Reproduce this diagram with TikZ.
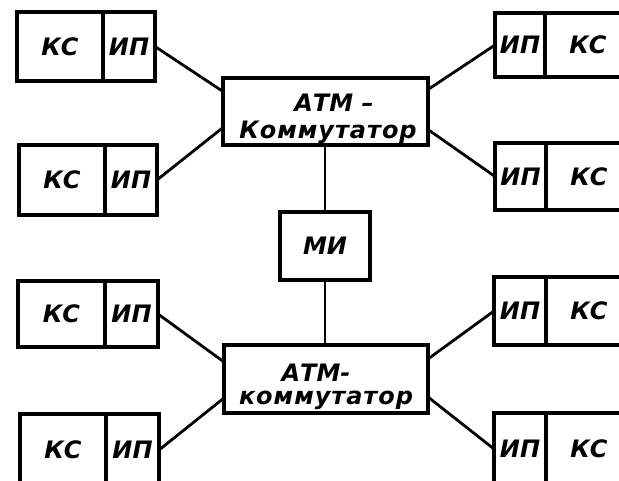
\documentclass[tikz,border=0pt]{standalone}
\usepackage{fontspec}
\setmainfont{DejaVu Sans}
\begin{document}
\begin{tikzpicture}[x=1pt,y=-1pt,
  bx/.style={draw, line width=3.4pt, inner sep=0pt, outer sep=0pt, anchor=north west,
    font=\bfseries\itshape\fontsize{24}{28}\selectfont},
  lbl/.style={inner sep=0pt, font=\bfseries\itshape\fontsize{24}{28}\selectfont},
  wire/.style={line width=2.8pt}]
\useasboundingbox (0,0) rectangle (619,481);
\clip (0,0) rectangle (619,481);
% left column
\node[bx, minimum width=86, minimum height=69] (k1) at (17,12) {КС};
\node[bx, minimum width=52, minimum height=69] (i1) at (k1.north east) {ИП};
\node[bx, minimum width=86, minimum height=70] (k2) at (19,145) {КС};
\node[bx, minimum width=52, minimum height=70] (i2) at (k2.north east) {ИП};
\node[bx, minimum width=87, minimum height=66] (k3) at (18,281) {КС};
\node[bx, minimum width=53, minimum height=66] (i3) at (k3.north east) {ИП};
\node[bx, minimum width=86, minimum height=72] (k4) at (20,414) {КС};
\node[bx, minimum width=53, minimum height=72] (i4) at (k4.north east) {ИП};
% right column
\node[bx, minimum width=50, minimum height=64] (i5) at (495,13) {ИП};
\node[bx, minimum width=86, minimum height=64] (k5) at (i5.north east) {КС};
\node[bx, minimum width=51, minimum height=67] (i6) at (495,143) {ИП};
\node[bx, minimum width=86, minimum height=67] (k6) at (i6.north east) {КС};
\node[bx, minimum width=52, minimum height=68] (i7) at (494,277) {ИП};
\node[bx, minimum width=86, minimum height=68] (k7) at (i7.north east) {КС};
\node[bx, minimum width=52, minimum height=72] (i8) at (494,413) {ИП};
\node[bx, minimum width=86, minimum height=72] (k8) at (i8.north east) {КС};
% switches and MI
\node[bx, minimum width=205, minimum height=67] (s1) at (223,78) {};
\node[bx, minimum width=204, minimum height=68] (s2) at (224,345) {};
\node[bx, minimum width=90, minimum height=68] (mi) at (280,212) {МИ};
\node[lbl] (t1) at (334,103) {АТМ –};
\node[lbl] (t2) at (328,132) {\addfontfeature{LetterSpace=4}Коммутатор};
\node[lbl] (t3) at (316,373) {АТМ-};
\node[lbl] (t4) at (326,400) {\addfontfeature{LetterSpace=4}коммутатор};
% connectors
\draw[wire] (mi.north) -- (mi.north |- s1.south);
\draw[wire] (mi.south) -- (mi.south |- s2.north);
\draw[wire] (i1.east) -- ([yshift=20pt]s1.west);
\draw[wire] (i2.east) -- ([yshift=-16pt]s1.west);
\draw[wire] (i3.east) -- ([yshift=17pt]s2.west);
\draw[wire] (i4.east) -- ([yshift=-19pt]s2.west);
\draw[wire] (i5.west) -- ([yshift=22pt]s1.east);
\draw[wire] (i6.west) -- ([yshift=-18pt]s1.east);
\draw[wire] (i7.west) -- ([yshift=20pt]s2.east);
\draw[wire] (i8.west) -- ([yshift=-18pt]s2.east);
\end{tikzpicture}
\end{document}
